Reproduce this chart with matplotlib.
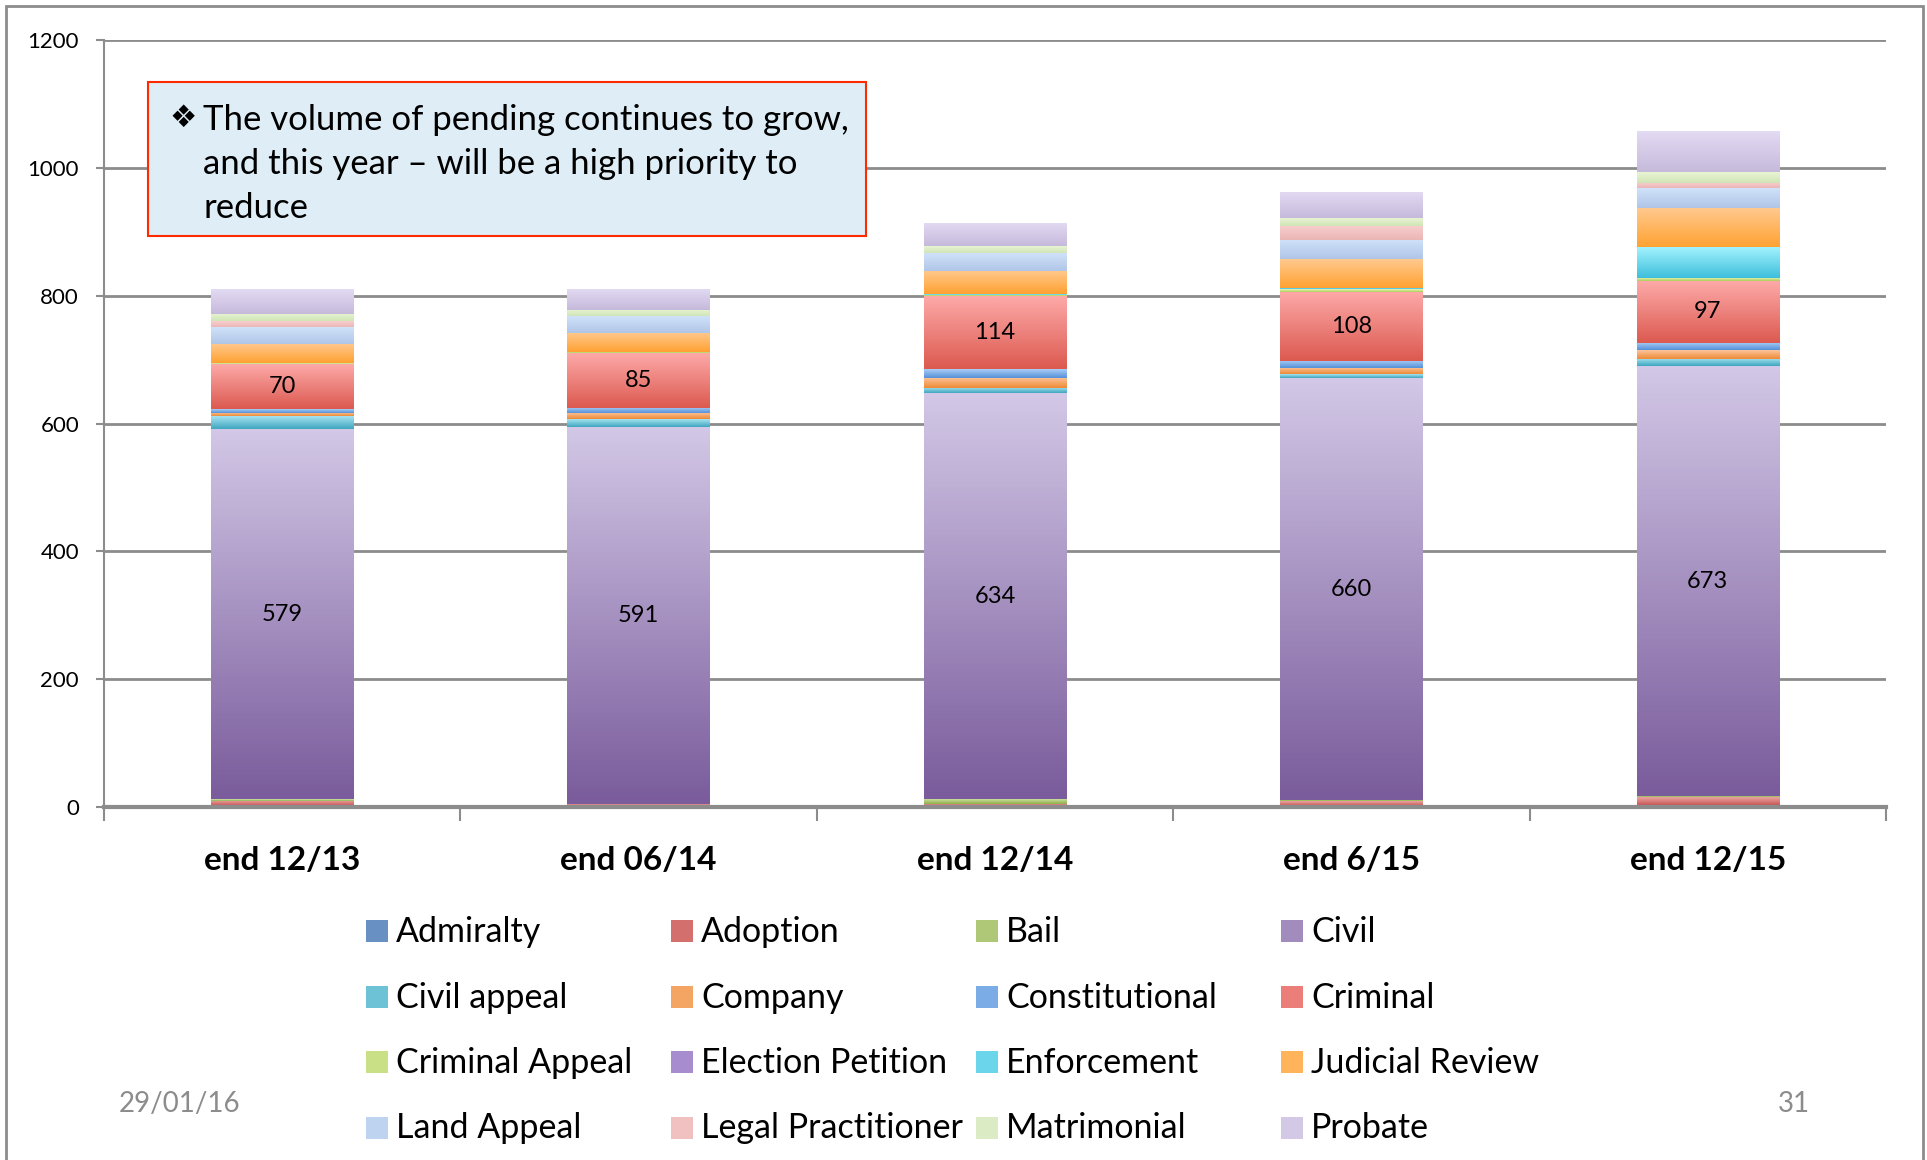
import numpy as np
import matplotlib.pyplot as plt
from matplotlib.colors import LinearSegmentedColormap
from matplotlib.patches import Rectangle

plt.rcParams['font.family'] = ['Lato', 'DejaVu Sans']

periods = ['end 12/13', 'end 06/14', 'end 12/14', 'end 6/15', 'end 12/15']

admiralty = [0, 1, 0, 0, 0]
adoption = [10, 3, 5, 9, 15]
bail = [2, 0, 8, 2, 2]
civil = [579, 591, 634, 660, 673]
civil_appeal = [20, 12, 8, 6, 11]
company = [6, 10, 16, 10, 14]
constitutional = [6, 8, 14, 11, 11]
criminal = [70, 85, 114, 108, 97]
criminal_appeal = [1, 2, 2, 4, 5]
election_petition = [0, 0, 0, 0, 0]
enforcement = [0, 0, 1, 2, 48]
judicial_review = [31, 30, 37, 45, 61]
land_appeal = [26, 26, 28, 30, 31]
legal_practitioner = [9, 0, 0, 22, 9]
matrimonial = [12, 10, 10, 12, 17]
probate = [39, 33, 36, 41, 64]

names = ['Admiralty', 'Adoption', 'Bail', 'Civil', 'Civil appeal', 'Company',
         'Constitutional', 'Criminal', 'Criminal Appeal', 'Election Petition',
         'Enforcement', 'Judicial Review', 'Land Appeal', 'Legal Practitioner',
         'Matrimonial', 'Probate']
series = [admiralty, adoption, bail, civil, civil_appeal, company,
          constitutional, criminal, criminal_appeal, election_petition,
          enforcement, judicial_review, land_appeal, legal_practitioner,
          matrimonial, probate]
labelled = ['Civil', 'Criminal']

# (bottom colour, top colour) for the gradient fill of each series
grads = [('#3f6ca8', '#9dbbe4'), ('#bf4643', '#eba3a1'), ('#8fb04a', '#d4e6ad'),
         ('#7a5c9c', '#d2c7e6'), ('#3ea6bf', '#a6e3f1'), ('#ee8a36', '#fcc59c'),
         ('#5590d8', '#a9cdf6'), ('#dc5a50', '#fda9a8'), ('#afcd58', '#eaf8c0'),
         ('#8a6ab8', '#cbb8ea'), ('#3ebfdc', '#a2f2fd'), ('#ffa232', '#ffc98e'),
         ('#b0c6e7', '#d0e2fa'), ('#eab5b5', '#f9cfcf'), ('#d0e4b6', '#e8f5d4'),
         ('#c6badb', '#e3daf3')]

W, H = 1927, 1160
fig = plt.figure(figsize=(W / 100, H / 100), dpi=100)
ax = fig.add_axes([104 / W, 1 - 807 / H, 1782 / W, 767 / H])

x = np.arange(len(periods))
w = 0.40
bottom = np.zeros(len(periods))
grad = np.linspace(0, 1, 64).reshape(-1, 1)
for name, vals, (c0, c1) in zip(names, series, grads):
    vals = np.array(vals, dtype=float)
    cmap = LinearSegmentedColormap.from_list(name, [c0, c1])
    bars = ax.bar(x, vals, w, bottom=bottom, color=c1, linewidth=0, zorder=2)
    for b, v in zip(bars, vals):
        if v <= 0:
            continue
        im = ax.imshow(grad, cmap=cmap, origin='lower', aspect='auto',
                       extent=(b.get_x(), b.get_x() + b.get_width(),
                               b.get_y(), b.get_y() + b.get_height()),
                       zorder=2.5, interpolation='bilinear')
        im.set_clip_path(b)
    if name in labelled:
        for xi, bo, v in zip(x, bottom, vals):
            ax.text(xi, bo + v / 2, f'{int(v)}', ha='center', va='center',
                    fontsize=17, color='black', zorder=4)
    bottom += vals

ax.set_xlim(-0.5, len(periods) - 0.5)
ax.set_ylim(0, 1200)
ax.set_yticks(range(0, 1201, 200))
ax.yaxis.grid(True, color='#8c8c8c', linewidth=2)
ax.set_axisbelow(True)
ax.tick_params(axis='y', labelsize=16, length=6, width=1.5, color='#8c8c8c', pad=12)
ax.set_xticks(x)
ax.set_xticklabels(periods, fontsize=24, fontweight='bold')
ax.tick_params(axis='x', which='major', length=0, pad=28)
ax.set_xticks(np.arange(-0.5, len(periods), 1), minor=True)
ax.tick_params(axis='x', which='minor', length=10, width=1.5, color='#8c8c8c')
for s in ['top', 'right']:
    ax.spines[s].set_visible(False)
ax.spines['left'].set_color('#8c8c8c')
ax.spines['left'].set_linewidth(1.5)
ax.spines['bottom'].set_color('#8c8c8c')
ax.spines['bottom'].set_linewidth(3)

# note box
fig.patches.append(Rectangle((148 / W, 1 - 236 / H), 718 / W, 154 / H,
                             transform=fig.transFigure, facecolor='#dfeef6',
                             edgecolor='#ff2a00', linewidth=1.5, zorder=5))
fig.text(169 / W, 1 - 118 / H, '\u2756', fontsize=22, va='center', ha='left',
         family=['DejaVu Sans'], zorder=6)
note = ('The volume of pending continues to grow,\n'
        'and this year \u2013 will be a high priority to\n'
        'reduce')
fig.text(203 / W, 1 - 164 / H, note, fontsize=25, va='center', ha='left',
         linespacing=1.45, zorder=6)

# legend, filled row by row like the original
for i, (name, (c0, c1)) in enumerate(zip(names, grads)):
    row, col = divmod(i, 4)
    lx = 366 + col * 305
    ly = 931 + row * 65.5
    fig.patches.append(Rectangle((lx / W, 1 - (ly + 11) / H), 22 / W, 22 / H,
                                 transform=fig.transFigure, linewidth=0,
                                 facecolor=LinearSegmentedColormap.from_list('h', [c0, c1])(0.45)))
    fig.text((lx + 30) / W, 1 - (ly + 1) / H, name, fontsize=24.5, va='center', ha='left')

fig.text(119 / W, 1 - 1104 / H, '29/01/16', fontsize=20, color='#8c8c8c', va='center')
fig.text(1778 / W, 1 - 1104 / H, '31', fontsize=20, color='#8c8c8c', va='center')

fig.add_artist(Rectangle((0.003, -0.05), 0.995, 1.045, transform=fig.transFigure,
                         facecolor='none', edgecolor='#8c8c8c', linewidth=2))

fig.savefig('out.png', dpi=100)
